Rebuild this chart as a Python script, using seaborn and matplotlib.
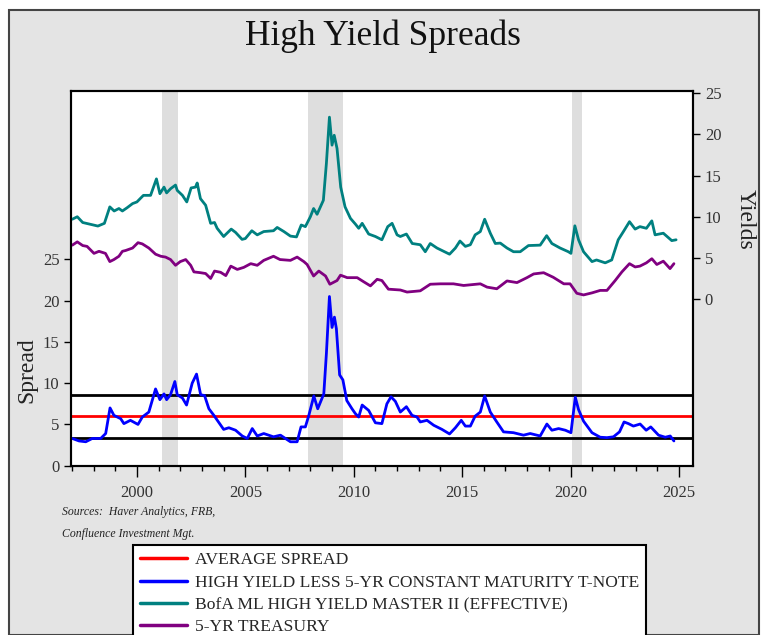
import matplotlib
matplotlib.use("Agg")
import matplotlib.pyplot as plt
import seaborn as sns
from matplotlib.patches import Rectangle

# Data (decimal years)
spread_x = [1997.02, 1997.33, 1997.64, 1997.94, 1998.33, 1998.56, 1998.76, 1998.94, 1999.25, 1999.4,
            1999.7, 2000.05, 2000.25, 2000.55, 2000.86, 2001.06, 2001.25, 2001.37, 2001.55, 2001.75,
            2001.86, 2002.1, 2002.29, 2002.55, 2002.75, 2002.94, 2003.12, 2003.32, 2003.55, 2004.0,
            2004.24, 2004.55, 2004.86, 2005.09, 2005.32, 2005.55, 2005.85, 2006.3, 2006.62, 2007.08,
            2007.39, 2007.57, 2007.77, 2007.93, 2008.16, 2008.34, 2008.62, 2008.74, 2008.88, 2009.0,
            2009.11, 2009.2, 2009.35, 2009.5, 2009.68, 2009.92, 2010.08, 2010.23, 2010.39, 2010.69,
            2011.0, 2011.3, 2011.53, 2011.72, 2011.92, 2012.15, 2012.43, 2012.69, 2012.92, 2013.07,
            2013.38, 2013.69, 2014.07, 2014.42, 2014.69, 2014.96, 2015.15, 2015.38, 2015.6, 2015.84,
            2016.04, 2016.3, 2016.6, 2016.91, 2017.37, 2017.83, 2018.14, 2018.6, 2018.91, 2019.14,
            2019.45, 2019.76, 2020.02, 2020.22, 2020.37, 2020.6, 2020.99, 2021.37, 2021.68, 2021.98,
            2022.26, 2022.47, 2022.67, 2022.9, 2023.21, 2023.49, 2023.7, 2024.06, 2024.37, 2024.6, 2024.77]
spread_y = [3.3, 3.0, 2.9, 3.3, 3.3, 3.9, 7.0, 6.1, 5.7, 5.1,
            5.5, 5.0, 5.9, 6.5, 9.3, 8.0, 8.7, 8.0, 8.6, 10.2,
            8.6, 8.2, 7.35, 10.0, 11.1, 8.6, 8.5, 6.9, 6.1, 4.4,
            4.6, 4.3, 3.6, 3.3, 4.5, 3.6, 3.9, 3.5, 3.7, 2.9,
            2.9, 4.7, 4.7, 6.1, 8.45, 6.9, 8.7, 13.6, 20.5, 16.75,
            18.0, 16.6, 11.0, 10.4, 7.9, 6.9, 6.3, 5.9, 7.35, 6.7,
            5.2, 5.1, 7.5, 8.35, 7.8, 6.5, 7.15, 6.1, 5.9, 5.3,
            5.5, 4.9, 4.4, 3.85, 4.6, 5.5, 4.8, 4.8, 6.0, 6.5,
            8.45, 6.5, 5.3, 4.1, 4.0, 3.7, 3.9, 3.6, 5.05, 4.3,
            4.5, 4.3, 4.0, 8.3, 6.8, 5.4, 4.0, 3.45, 3.4, 3.5,
            4.1, 5.3, 5.1, 4.8, 5.05, 4.3, 4.7, 3.7, 3.45, 3.6, 3.0]

hy_x = [1997.02, 1997.25, 1997.5, 1998.2, 1998.5, 1998.75, 1998.95, 1999.17, 1999.33, 1999.55,
        1999.8, 2000.0, 2000.3, 2000.63, 2000.9, 2001.06, 2001.25, 2001.37, 2001.55, 2001.78,
        2001.86, 2002.1, 2002.3, 2002.5, 2002.7, 2002.78, 2002.93, 2003.17, 2003.4, 2003.58,
        2003.7, 2004.0, 2004.35, 2004.55, 2004.85, 2005.0, 2005.3, 2005.55, 2005.85, 2006.3,
        2006.47, 2006.78, 2007.08, 2007.36, 2007.58, 2007.77, 2008.0, 2008.15, 2008.31, 2008.6,
        2008.74, 2008.88, 2009.0, 2009.1, 2009.23, 2009.4, 2009.6, 2009.85, 2010.08, 2010.23,
        2010.39, 2010.69, 2011.0, 2011.3, 2011.57, 2011.77, 2012.0, 2012.15, 2012.43, 2012.7,
        2013.07, 2013.3, 2013.53, 2013.84, 2014.42, 2014.69, 2014.9, 2015.15, 2015.38, 2015.6,
        2015.84, 2016.04, 2016.3, 2016.53, 2016.76, 2017.07, 2017.37, 2017.68, 2018.06, 2018.6,
        2018.9, 2019.14, 2019.52, 2019.9, 2020.02, 2020.2, 2020.37, 2020.6, 2020.99, 2021.2,
        2021.6, 2021.9, 2022.2, 2022.44, 2022.72, 2022.98, 2023.2, 2023.5, 2023.75, 2023.9,
        2024.28, 2024.67, 2024.87]
hy_y = [9.7, 10.0, 9.3, 8.87, 9.2, 11.2, 10.7, 11.0, 10.7, 11.1,
        11.6, 11.8, 12.6, 12.6, 14.6, 12.8, 13.6, 12.9, 13.4, 13.85,
        13.2, 12.6, 11.8, 13.5, 13.6, 14.1, 12.2, 11.4, 9.2, 9.3,
        8.6, 7.6, 8.5, 8.1, 7.25, 7.35, 8.3, 7.8, 8.2, 8.3,
        8.7, 8.2, 7.65, 7.55, 9.0, 8.8, 10.0, 11.0, 10.3, 12.0,
        16.5, 22.1, 18.7, 19.9, 18.3, 13.6, 11.2, 9.8, 9.1, 8.6,
        9.2, 7.9, 7.6, 7.2, 8.8, 9.2, 7.8, 7.6, 7.9, 6.75,
        6.6, 5.75, 6.75, 6.2, 5.45, 6.2, 7.05, 6.4, 6.6, 7.8,
        8.2, 9.7, 8.0, 6.75, 6.8, 6.2, 5.75, 5.75, 6.5, 6.55,
        7.7, 6.75, 6.2, 5.75, 5.55, 8.9, 7.2, 5.75, 4.55, 4.75,
        4.4, 4.75, 7.2, 8.2, 9.4, 8.5, 8.8, 8.6, 9.5, 7.8,
        8.0, 7.1, 7.2]

tsy_x = [1997.02, 1997.25, 1997.5, 1997.7, 1998.02, 1998.25, 1998.55, 1998.75, 1998.94, 1999.17,
         1999.33, 1999.48, 1999.8, 2000.05, 2000.25, 2000.55, 2000.86, 2001.1, 2001.32, 2001.55,
         2001.78, 2002.0, 2002.25, 2002.48, 2002.63, 2002.94, 2003.17, 2003.4, 2003.58, 2003.86,
         2004.1, 2004.33, 2004.63, 2004.93, 2005.25, 2005.55, 2005.85, 2006.3, 2006.6, 2007.08,
         2007.39, 2007.7, 2007.85, 2008.15, 2008.39, 2008.7, 2008.9, 2009.23, 2009.39, 2009.7,
         2010.16, 2010.46, 2010.77, 2011.08, 2011.3, 2011.6, 2012.15, 2012.46, 2013.07, 2013.53,
         2014.0, 2014.6, 2015.07, 2015.84, 2016.15, 2016.6, 2017.07, 2017.53, 2017.99, 2018.3,
         2018.76, 2019.2, 2019.69, 2019.98, 2020.29, 2020.6, 2020.99, 2021.37, 2021.68, 2022.06,
         2022.37, 2022.72, 2022.98, 2023.2, 2023.5, 2023.75, 2023.98, 2024.28, 2024.59, 2024.77]
tsy_y = [6.55, 6.95, 6.5, 6.4, 5.55, 5.8, 5.55, 4.55, 4.8, 5.2,
         5.8, 5.9, 6.2, 6.85, 6.7, 6.2, 5.45, 5.2, 5.1, 4.8,
         4.1, 4.55, 4.8, 4.1, 3.3, 3.2, 3.1, 2.5, 3.4, 3.25,
         2.85, 4.0, 3.6, 3.85, 4.3, 4.1, 4.7, 5.2, 4.8, 4.7,
         5.1, 4.55, 4.2, 2.8, 3.4, 2.8, 1.8, 2.25, 2.9, 2.6,
         2.6, 2.1, 1.6, 2.4, 2.25, 1.2, 1.1, 0.85, 1.0, 1.8,
         1.85, 1.85, 1.65, 1.85, 1.45, 1.25, 2.2, 2.0, 2.6, 3.05,
         3.2, 2.65, 1.85, 1.85, 0.7, 0.5, 0.75, 1.05, 1.05, 2.25,
         3.3, 4.3, 3.9, 4.0, 4.4, 4.9, 4.2, 4.6, 3.7, 4.3]

avg_spread = 6.0
spread_sd = 2.62

rec_start = [2001.15, 2007.9, 2020.05]
rec_end = [2001.88, 2009.5, 2020.55]

sns.set_style("white")
plt.rcParams['font.family'] = ['Liberation Serif', 'DejaVu Serif']

fig = plt.figure(figsize=(7.65, 6.35), dpi=100, facecolor='white')
# gray panel with a dark frame, kept behind the axes
fig.patches.append(Rectangle((9 / 765, 0), 750 / 765, 625 / 635, transform=fig.transFigure,
                             facecolor='#e4e4e4', edgecolor='#444444', lw=1.5, zorder=-10))

ax = fig.add_axes([0.0931, 0.2666, 0.8128, 0.5901])
ax.set_facecolor('white')

for s, e in zip(rec_start, rec_end):
    ax.axvspan(s, e, color='#dedede', lw=0, zorder=0)

ax.axhline(avg_spread + spread_sd, color='black', lw=2)
ax.axhline(avg_spread - spread_sd, color='black', lw=2)
ax.axhline(avg_spread, color='#ff0000', lw=2, label='AVERAGE SPREAD')
sns.lineplot(x=spread_x, y=spread_y, ax=ax, color='#0000ff', lw=2,
             label='HIGH YIELD LESS 5-YR CONSTANT MATURITY T-NOTE')

ax2 = ax.twinx()
sns.lineplot(x=hy_x, y=hy_y, ax=ax2, color='#008080', lw=2,
             label='BofA ML HIGH YIELD MASTER II (EFFECTIVE)')
sns.lineplot(x=tsy_x, y=tsy_y, ax=ax2, color='#800080', lw=2, label='5-YR TREASURY')

ax.set_xlim(1996.97, 2025.65)
ax.set_ylim(0, 45.4)
ax2.set_ylim(-20.25, 25.28)

ax.set_xticks(range(2000, 2026, 5))
ax.set_xticks(range(1997, 2026), minor=True)
ax.set_yticks(range(0, 26, 5))
ax2.set_yticks(range(0, 26, 5))

ax.tick_params(axis='x', which='major', length=8, width=1, color='black',
               labelsize=12, labelcolor='#333333', direction='out', bottom=True, pad=6)
ax.tick_params(axis='x', which='minor', length=3.5, width=1, color='black', direction='out', bottom=True)
ax.tick_params(axis='y', length=5, width=1, color='black', labelsize=12,
               labelcolor='#333333', direction='out', left=True)
ax2.tick_params(axis='y', length=5, width=1, color='black', labelsize=12,
                labelcolor='#333333', direction='out', right=True)

for a in (ax, ax2):
    for sp in a.spines.values():
        sp.set_color('black')
        sp.set_linewidth(1.5)
        sp.set_visible(True)

ax.set_xlabel('')
ax.set_ylabel('Spread', fontsize=17, color='#222222')
ax.yaxis.set_label_coords(-0.055, 0.255)
ax2.set_ylabel('Yields', fontsize=17, color='#222222', rotation=270)
ax2.yaxis.set_label_coords(1.1, 0.658)

fig.text(0.5, 1 - 45 / 635, 'High Yield Spreads', ha='center', va='baseline',
         fontsize=25.5, color='#111111')
fig.text(62 / 765, 1 - 512 / 635, 'Sources:  Haver Analytics, FRB,', ha='left', va='center',
         fontsize=8.5, style='italic', color='#222222')
fig.text(62 / 765, 1 - 534 / 635, 'Confluence Investment Mgt.', ha='left', va='center',
         fontsize=8.5, style='italic', color='#222222')

h1, l1 = ax.get_legend_handles_labels()
h2, l2 = ax2.get_legend_handles_labels()
ax.get_legend().remove()
ax2.get_legend().remove()
leg = fig.legend(h1 + h2, l1 + l2, loc='upper left', bbox_to_anchor=(133 / 765, 1 - 545 / 635),
                 frameon=True, fancybox=False, framealpha=1, edgecolor='black', facecolor='white',
                 fontsize=12.6, handlelength=2.7, handletextpad=0.45, labelspacing=0.35,
                 borderpad=0.4, borderaxespad=0)
leg.get_frame().set_linewidth(1.5)
for line in leg.get_lines():
    line.set_linewidth(2.5)

fig.savefig('out.png', dpi=100, facecolor='white')
